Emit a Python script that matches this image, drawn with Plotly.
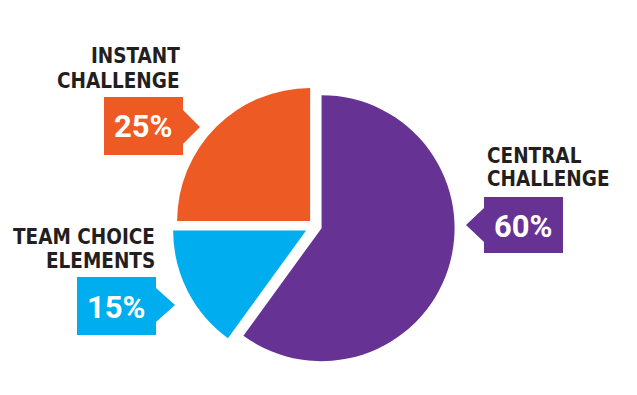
import plotly.graph_objects as go

# ---- data ----
labels = ["CENTRAL CHALLENGE", "TEAM CHOICE ELEMENTS", "INSTANT CHALLENGE"]
values = [60, 15, 25]
colors = ["#663394", "#00AEEF", "#EE5A24"]
pulls = [0.052, 0.075, 0.052]
label_lines = [["CENTRAL", "CHALLENGE"], ["TEAM CHOICE", "ELEMENTS"], ["INSTANT", "CHALLENGE"]]
pct_text = ["60%", "15%", "25%"]

W, H = 637, 395

def px(x):
    return x / W

def py(y):
    return 1 - y / H

# pie geometry (pixels)
cx, cy, R = 315, 226, 133
maxp = max(pulls)
half = R * (1 + maxp)

fig = go.Figure()
fig.add_trace(go.Pie(
    labels=labels, values=values, sort=False, direction="clockwise", rotation=0,
    marker=dict(colors=colors, line=dict(width=0)),
    pull=pulls, textinfo="none", hoverinfo="label+percent", showlegend=False,
    domain=dict(x=[px(cx - half), px(cx + half)], y=[py(cy + half), py(cy - half)]),
))

# callout layout (pixels): box x0,x1,y0,y1, arrow side, tip, text anchor
callouts = [
    dict(box=(484, 563, 197, 253), side="left", tip=(466, 225), ah=17,
         text_x=485, anchor="left", line_y=[156, 179]),
    dict(box=(77, 156, 277, 335), side="right", tip=(175, 305), ah=17,
         text_x=157, anchor="right", line_y=[237, 261]),
    dict(box=(104, 183, 97, 155), side="right", tip=(200, 127), ah=17,
         text_x=182, anchor="right", line_y=[56, 81]),
]

shapes = []
annotations = []
for i, c in enumerate(callouts):
    x0, x1, y0, y1 = c["box"]
    tx, ty = c["tip"]
    ah = c["ah"]
    if c["side"] == "left":
        path = (f"M {px(x0)},{py(y0)} L {px(x1)},{py(y0)} L {px(x1)},{py(y1)} L {px(x0)},{py(y1)} "
                f"L {px(x0)},{py(ty + ah)} L {px(tx)},{py(ty)} L {px(x0)},{py(ty - ah)} Z")
    else:
        path = (f"M {px(x0)},{py(y0)} L {px(x1)},{py(y0)} L {px(x1)},{py(ty - ah)} L {px(tx)},{py(ty)} "
                f"L {px(x1)},{py(ty + ah)} L {px(x1)},{py(y1)} L {px(x0)},{py(y1)} Z")
    shapes.append(dict(type="path", path=path, xref="paper", yref="paper",
                       fillcolor=colors[i], line=dict(width=0), layer="above"))
    annotations.append(dict(
        x=px((x0 + x1) / 2), y=py((y0 + y1) / 2 + 1), xref="paper", yref="paper",
        text=pct_text[i], showarrow=False, xanchor="center", yanchor="middle",
        font=dict(family="Roboto", size=31, color="white", weight="bold"),
    ))
    for line, ly in zip(label_lines[i], c["line_y"]):
        annotations.append(dict(
            x=px(c["text_x"]), y=py(ly), xref="paper", yref="paper", text=line,
            showarrow=False, xanchor=c["anchor"], yanchor="middle",
            font=dict(family="DejaVu Sans Condensed, sans-serif",
                      size=20.5, color="#231F20", weight="bold"),
        ))

fig.update_layout(
    width=W, height=H, margin=dict(l=0, r=0, t=0, b=0),
    paper_bgcolor="white", plot_bgcolor="white",
    shapes=shapes, annotations=annotations,
)

fig.write_html("out.html")
